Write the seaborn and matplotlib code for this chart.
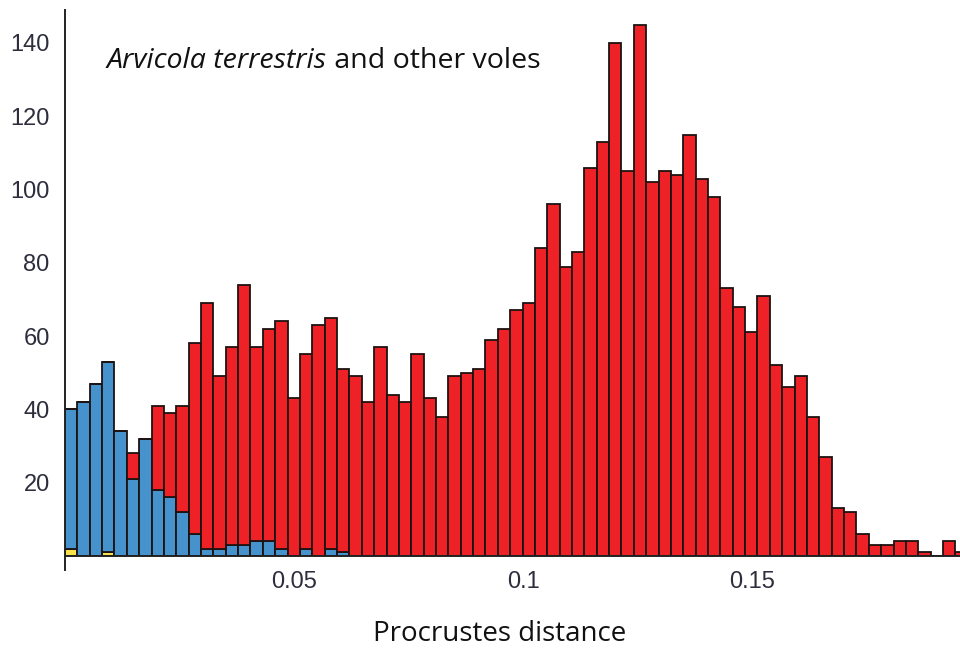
import numpy as np
import pandas as pd
import seaborn as sns
import matplotlib.pyplot as plt
from matplotlib.ticker import MultipleLocator, FixedLocator

# histogram bins (Procrustes distance)
bin_width = 0.0027
n_bins = 73

# total count per bin
totals = [40, 42, 47, 53, 34, 28, 32, 41, 39, 41, 58, 69, 49, 57, 74, 57, 62, 64, 43, 55,
          63, 65, 51, 49, 42, 57, 44, 42, 55, 43, 38, 49, 50, 51, 59, 62, 67, 69, 84, 96,
          79, 83, 106, 113, 140, 105, 145, 102, 105, 104, 115, 103, 98, 73, 68, 61, 71, 52, 46, 49,
          38, 27, 13, 12, 6, 3, 3, 4, 4, 1, 0, 4, 1]
# blue part (within Arvicola terrestris)
blue = [38, 42, 47, 52, 34, 21, 32, 18, 16, 12, 6, 2, 2, 3, 3, 4, 4, 2, 0, 2,
        0, 2, 1] + [0] * 50
# yellow part
yellow = [2, 0, 0, 1] + [0] * 69

centers = (np.arange(n_bins) + 0.5) * bin_width
red = [t - b - y for t, b, y in zip(totals, blue, yellow)]

df = pd.concat([
    pd.DataFrame({"dist": centers, "n": red, "grp": "red"}),
    pd.DataFrame({"dist": centers, "n": blue, "grp": "blue"}),
    pd.DataFrame({"dist": centers, "n": yellow, "grp": "yellow"}),
], ignore_index=True)

sns.set_style("white")
plt.rcParams["font.family"] = ["Liberation Sans", "DejaVu Sans"]

fig = plt.figure(figsize=(9.6, 6.48), dpi=100)
ax = fig.add_axes([65 / 960, 92 / 648, 895 / 960, 546 / 648])

sns.histplot(data=df, x="dist", weights="n", hue="grp",
             binwidth=bin_width, binrange=(0, n_bins * bin_width),
             multiple="stack", hue_order=["red", "blue", "yellow"],
             palette={"red": "#ee2226", "blue": "#4592cc", "yellow": "#f8e24a"},
             edgecolor="#1c1212", linewidth=1.3, alpha=1, legend=False, ax=ax)

ax.set_xlim(0, 895 / 4580)
ax.set_ylim(0, 149)
ax.set_axisbelow(True)

ax.xaxis.set_major_locator(FixedLocator([0.05, 0.1, 0.15]))
ax.set_xticklabels(["0.05", "0.1", "0.15"])
ax.xaxis.set_minor_locator(MultipleLocator(0.01))
ax.yaxis.set_major_locator(FixedLocator([20, 40, 60, 80, 100, 120, 140]))
ax.yaxis.set_minor_locator(MultipleLocator(5))
ax.tick_params(axis="both", which="major", direction="in", length=6, width=1,
               color="#222222", labelsize=17, labelcolor="#2d2d3d")
ax.tick_params(axis="both", which="minor", direction="in", length=3.5, width=1,
               color="#222222")
ax.tick_params(axis="y", pad=11)
ax.tick_params(axis="x", pad=11)

for side in ["top", "right"]:
    ax.spines[side].set_visible(False)
for side in ["left", "bottom"]:
    ax.spines[side].set_color("#222222")
    ax.spines[side].set_linewidth(1.4)
# left axis line runs a little below the x axis, as in the original
ax.spines["left"].set_bounds(-3.8, 149)

ax.set_xlabel("Procrustes distance", family=["Open Sans", "DejaVu Sans"],
              fontsize=20, color="#111111", va="center")
ax.xaxis.set_label_coords((500 - 65) / 895, -78 / 546)
ax.set_ylabel("")

t1 = ax.text(42 / 895, 1 - 58 / 546, "Arvicola terrestris", transform=ax.transAxes,
             family=["Open Sans", "DejaVu Sans"], style="italic", fontsize=20.5,
             va="baseline", ha="left", color="#111111")
ax.annotate(" and other voles", xy=(1, 0), xycoords=t1, va="bottom", ha="left",
            family=["Open Sans", "DejaVu Sans"], fontsize=20.5, color="#111111")

fig.savefig("out.png", dpi=100)
